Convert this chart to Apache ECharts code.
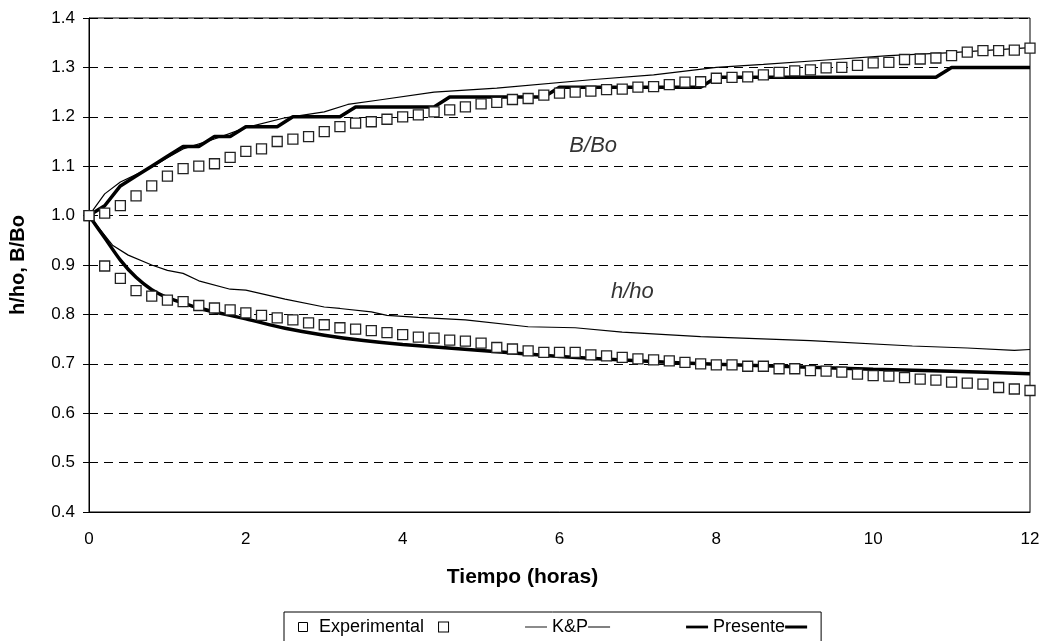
<!DOCTYPE html>
<html>
<head>
<meta charset="utf-8">
<script src="https://cdn.jsdelivr.net/npm/echarts@6/dist/echarts.min.js"></script>
<style>
html,body{margin:0;padding:0;background:#fff;}
#c{width:1045px;height:641px;}
</style>
</head>
<body>
<div id="c"></div>
<script>
// ---- data ----
const expTimes = [0,0.2,0.4,0.6,0.8,1.0,1.2,1.4,1.6,1.8,2.0,2.2,2.4,2.6,2.8,3.0,3.2,3.4,3.6,3.8,
  4.0,4.2,4.4,4.6,4.8,5.0,5.2,5.4,5.6,5.8,6.0,6.2,6.4,6.6,6.8,7.0,7.2,7.4,7.6,7.8,
  8.0,8.2,8.4,8.6,8.8,9.0,9.2,9.4,9.6,9.8,10.0,10.2,10.4,10.6,10.8,11.0,11.2,11.4,11.6,11.8,12.0];
const expB = [1.000,1.005,1.020,1.040,1.060,1.080,1.095,1.100,1.105,1.118,1.130,1.135,1.150,1.155,1.160,1.170,1.180,1.187,1.190,1.195,
  1.200,1.204,1.210,1.214,1.220,1.226,1.229,1.235,1.237,1.244,1.248,1.250,1.252,1.255,1.256,1.260,1.261,1.265,1.270,1.271,
  1.278,1.280,1.281,1.285,1.290,1.293,1.295,1.299,1.300,1.304,1.309,1.310,1.316,1.317,1.319,1.324,1.331,1.334,1.334,1.335,1.339];
const expH = [1.000,0.898,0.873,0.848,0.837,0.829,0.826,0.818,0.813,0.809,0.803,0.798,0.793,0.789,0.783,0.779,0.773,0.770,0.767,0.763,
  0.759,0.754,0.752,0.748,0.746,0.742,0.733,0.730,0.726,0.723,0.723,0.723,0.718,0.716,0.713,0.710,0.708,0.706,0.703,0.700,
  0.698,0.698,0.695,0.695,0.690,0.690,0.686,0.685,0.683,0.679,0.676,0.675,0.672,0.669,0.667,0.663,0.661,0.659,0.652,0.649,0.646];
const presB = [1.00,1.02,1.06,1.08,1.10,1.12,1.14,1.14,1.16,1.16,1.18,1.18,1.18,1.20,1.20,1.20,1.20,1.22,1.22,1.22,
  1.22,1.22,1.22,1.24,1.24,1.24,1.24,1.24,1.24,1.24,1.26,1.26,1.26,1.26,1.26,1.26,1.26,1.26,1.26,1.26,
  1.28,1.28,1.28,1.28,1.28,1.28,1.28,1.28,1.28,1.28,1.28,1.28,1.28,1.28,1.28,1.30,1.30,1.30,1.30,1.30,1.30];
const presHTimes = [0,0.2,0.4,0.6,0.8,1.0,1.2,1.4,1.6,2.0,2.5,3.0,3.5,4.0,5.0,6.0,7.0,8.0,9.0,10.0,11.0,12.0];
const presH = [1.000,0.955,0.910,0.875,0.850,0.834,0.823,0.813,0.805,0.791,0.772,0.758,0.747,0.739,0.727,0.715,0.706,0.699,0.694,0.689,0.685,0.680];
const kpBTimes = [0,0.2,0.4,0.6,0.8,1.0,1.2,1.6,2.0,2.5,3.0,3.3,3.7,4.4,4.8,5.2,6.4,7.2,8.0,8.6,9.4,10.2,11.0,12.0];
const kpB = [1.000,1.044,1.068,1.083,1.098,1.117,1.135,1.155,1.178,1.198,1.210,1.225,1.234,1.250,1.254,1.258,1.275,1.285,1.300,1.306,1.315,1.324,1.330,1.340];
const kpHTimes = [0,0.3,0.5,0.8,1.0,1.2,1.4,1.8,2.0,2.5,3.0,3.2,3.6,3.8,4.2,4.8,5.6,6.2,6.8,7.8,9.2,10.5,11.2,11.8,12.0];
const kpH = [1.000,0.940,0.920,0.900,0.889,0.883,0.868,0.851,0.849,0.831,0.815,0.812,0.805,0.798,0.794,0.789,0.775,0.773,0.764,0.755,0.747,0.736,0.732,0.727,0.729];
const seriesNames = ['Experimental','K&P','Presente'];
const annotTexts = ['B/Bo','h/ho'];
const annotX = [6.43, 6.93];
const annotY = [1.142, 0.845];
const xTitle = 'Tiempo (horas)';
const yTitle = 'h/ho, B/Bo';

// ---- chart ----
const FONT = '"Liberation Sans", Arial, sans-serif';
const zip = (xs, ys) => xs.map((x, i) => [x, ys[i]]);
const chart = echarts.init(document.getElementById('c'), null, {renderer: 'canvas'});

const lineSeries = (name, data, width, smooth) => ({
  name, type: 'line', data, showSymbol: false, symbol: 'none', smooth: smooth ? 0.3 : false,
  lineStyle: {color: '#000', width}, itemStyle: {color: '#000'}, z: 2, silent: true
});
const expSeries = (data) => ({
  name: seriesNames[0], type: 'scatter', data, symbol: 'rect', symbolSize: 10,
  itemStyle: {color: '#fff', borderColor: '#222', borderWidth: 1.3, opacity: 1}, z: 5, silent: true
});

chart.setOption({
  animation: false,
  backgroundColor: '#fff',
  textStyle: {fontFamily: FONT},
  grid: {left: 89, right: 15, top: 18, bottom: 129, show: true, borderColor: '#000', borderWidth: 1, containLabel: false},
  xAxis: {
    type: 'value', min: 0, max: 12, interval: 2,
    name: xTitle, nameLocation: 'middle', nameGap: 55,
    nameTextStyle: {fontFamily: FONT, fontSize: 21, fontWeight: 'bold', color: '#000', padding: [0, 74, 0, 0]},
    axisLine: {show: true, lineStyle: {color: '#000', width: 1}},
    axisTick: {show: false},
    axisLabel: {fontFamily: FONT, fontSize: 17, color: '#000', margin: 19},
    splitLine: {show: false}
  },
  yAxis: {
    type: 'value', min: 0.4, max: 1.4, interval: 0.1,
    name: yTitle, nameLocation: 'middle', nameGap: 61, nameRotate: 90,
    nameTextStyle: {fontFamily: FONT, fontSize: 20, fontWeight: 'bold', color: '#000'},
    axisLine: {show: true, lineStyle: {color: '#000', width: 1}},
    axisTick: {show: true, inside: false, length: 6, lineStyle: {color: '#000'}},
    axisLabel: {fontFamily: FONT, fontSize: 17, color: '#000', margin: 14, formatter: v => v.toFixed(1)},
    splitLine: {show: true, lineStyle: {color: '#000', width: 1, type: [9, 6]}}
  },
  legend: {
    left: 284, top: 612,
    padding: [6, 14, 10, 14],
    borderColor: '#000', borderWidth: 1, borderRadius: 0,
    itemGap: 76, itemWidth: 22, itemHeight: 9,
    selectedMode: false,
    textStyle: {
      fontFamily: FONT, fontSize: 18, color: '#000',
      rich: {
        sq: {width: 9, height: 9, borderColor: '#000', borderWidth: 1, backgroundColor: '#fff', verticalAlign: 'middle'},
        thin: {width: 22, height: 1, backgroundColor: '#000', verticalAlign: 'middle'},
        thick: {width: 22, height: 3, backgroundColor: '#000', verticalAlign: 'middle'}
      }
    },
    formatter: function (name) {
      if (name === seriesNames[0]) return name + '   {sq|}';
      if (name === seriesNames[1]) return name + '{thin|}';
      return name + '{thick|}';
    },
    data: [
      {name: seriesNames[0], icon: 'path://M0,0H10V10H0Z', itemStyle: {color: '#fff', borderColor: '#000', borderWidth: 1}},
      {name: seriesNames[1], icon: 'path://M0,0H24V1H0Z', itemStyle: {color: '#000', borderWidth: 0}},
      {name: seriesNames[2], icon: 'path://M0,0H24V3H0Z', itemStyle: {color: '#000', borderWidth: 0}}
    ]
  },
  series: [
    lineSeries(seriesNames[1], zip(kpBTimes, kpB), 1.2, false),
    lineSeries(seriesNames[1], zip(kpHTimes, kpH), 1.2, false),
    lineSeries(seriesNames[2], zip(expTimes, presB), 3.5, false),
    lineSeries(seriesNames[2], zip(presHTimes, presH), 3.5, true),
    expSeries(zip(expTimes, expB)),
    expSeries(zip(expTimes, expH)),
    {
      name: 'annot', type: 'scatter', symbolSize: 0, silent: true, z: 6,
      data: annotTexts.map((t, i) => ({value: [annotX[i], annotY[i]], name: t})),
      label: {show: true, position: 'inside', formatter: p => p.name,
        fontFamily: FONT, fontSize: 22, fontStyle: 'italic', color: '#000'}
    }
  ]
});
</script>
</body>
</html>
